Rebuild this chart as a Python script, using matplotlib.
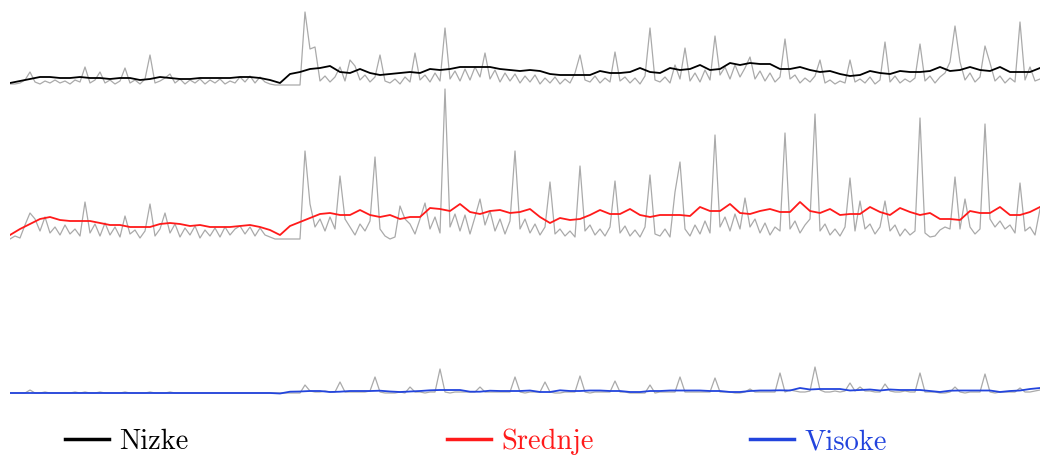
import numpy as np
import matplotlib
matplotlib.use("Agg")
import matplotlib.pyplot as plt

# raw daily values (gray) and smoothed trends, three groups
nizke_raw = [
    1, 1, 2, 5, 13, 3, 1, 4, 2, 5,
    2, 4, 1, 5, 3, 18, 2, 5, 13, 2,
    5, 1, 4, 17, 2, 5, 1, 6, 30, 2,
    4, 7, 11, 2, 6, 1, 5, 2, 6, 1,
    5, 2, 6, 1, 4, 2, 8, 3, 9, 2,
    8, 3, 1, 0, 0, 0, 0, 0, 0, 73,
    36, 38, 4, 9, 3, 8, 18, 4, 25, 19,
    5, 10, 3, 8, 30, 4, 2, 6, 1, 8,
    3, 32, 5, 10, 3, 12, 4, 57, 6, 14,
    4, 16, 5, 18, 8, 32, 6, 15, 3, 12,
    4, 11, 2, 9, 3, 10, 1, 7, 2, 8,
    1, 6, 2, 12, 30, 5, 3, 9, 2, 7,
    3, 33, 4, 8, 2, 7, 1, 9, 57, 5,
    3, 8, 2, 20, 6, 37, 4, 12, 3, 15,
    5, 49, 10, 18, 6, 20, 8, 17, 28, 6,
    14, 4, 12, 3, 8, 46, 6, 10, 2, 7,
    3, 9, 25, 2, 5, 1, 4, 2, 25, 3,
    6, 2, 8, 1, 5, 43, 3, 9, 2, 6,
    3, 7, 41, 4, 9, 2, 8, 12, 23, 59,
    23, 5, 12, 3, 8, 39, 22, 4, 9, 2,
    7, 3, 63, 5, 18, 4, 6,
]
nizke_trend = [
    2, 4, 6, 8, 8, 7, 7, 8, 7, 7,
    6, 7, 7, 5, 6, 8, 7, 6, 6, 7,
    7, 7, 7, 8, 8, 7, 5, 2, 11, 13,
    16, 17, 19, 13, 12, 16, 12, 10, 11, 12,
    13, 12, 16, 15, 16, 18, 18, 18, 18, 16,
    15, 14, 15, 14, 11, 10, 10, 10, 10, 14,
    12, 12, 13, 17, 13, 12, 17, 15, 16, 20,
    15, 16, 22, 20, 22, 21, 21, 16, 16, 18,
    15, 13, 14, 11, 9, 10, 14, 12, 11, 14,
    13, 13, 14, 18, 14, 15, 18, 15, 14, 18,
    13, 13, 13, 17,
]

srednje_raw = [
    0, 3, 1, 14, 26, 20, 8, 22, 6, 12,
    4, 14, 5, 10, 3, 37, 6, 15, 3, 16,
    4, 12, 2, 23, 5, 9, 1, 8, 35, 3,
    10, 26, 6, 15, 2, 11, 4, 13, 1, 9,
    3, 11, 2, 12, 4, 10, 13, 5, 12, 3,
    11, 4, 2, 0, 0, 0, 0, 0, 0, 88,
    35, 12, 20, 8, 22, 10, 63, 20, 12, 4,
    15, 8, 18, 82, 10, 3, 0, 2, 33, 20,
    15, 5, 20, 36, 10, 22, 6, 150, 12, 25,
    8, 24, 5, 22, 40, 14, 28, 8, 20, 5,
    18, 88, 10, 20, 6, 15, 4, 12, 57, 5,
    10, 3, 8, 2, 73, 8, 14, 4, 10, 3,
    12, 58, 6, 13, 3, 9, 2, 12, 64, 5,
    3, 10, 2, 47, 77, 10, 3, 14, 5, 18,
    6, 104, 12, 22, 8, 25, 10, 41, 12, 20,
    6, 16, 4, 12, 8, 106, 10, 18, 6, 14,
    20, 125, 8, 15, 4, 10, 3, 12, 61, 8,
    38, 10, 15, 5, 12, 38, 8, 14, 3, 10,
    4, 8, 121, 6, 2, 3, 9, 12, 10, 62,
    10, 40, 12, 5, 10, 115, 20, 12, 18, 10,
    14, 6, 56, 8, 12, 4, 30,
]
srednje_trend = [
    4, 10, 15, 20, 22, 19, 18, 18, 18, 16,
    14, 14, 12, 12, 12, 15, 16, 15, 13, 14,
    12, 12, 12, 13, 14, 12, 9, 4, 13, 17,
    21, 25, 26, 24, 24, 29, 24, 22, 24, 20,
    22, 22, 31, 30, 28, 35, 27, 25, 28, 29,
    26, 27, 30, 22, 16, 21, 19, 20, 24, 29,
    25, 25, 30, 24, 22, 24, 24, 24, 23, 32,
    28, 28, 35, 26, 25, 28, 30, 27, 27, 37,
    28, 26, 30, 24, 25, 25, 32, 27, 24, 31,
    27, 24, 26, 20, 20, 19, 28, 26, 26, 32,
    24, 24, 27, 32,
]

visoke_raw = [
    0, 0, 0, 0, 3, 0, 0, 1, 0, 0,
    0, 0, 0, 1, 0, 1, 0, 0, 1, 0,
    0, 0, 0, 1, 0, 0, 0, 0, 1, 0,
    0, 0, 1, 0, 0, 0, 0, 0, 0, 0,
    0, 0, 0, 0, 0, 0, 0, 0, 0, 0,
    0, 0, 0, 0, 0, 0, 0, 0, 0, 8,
    2, 1, 1, 2, 1, 1, 11, 1, 1, 1,
    1, 1, 2, 16, 1, 0, 0, 0, 1, 0,
    6, 1, 1, 0, 1, 1, 24, 1, 0, 1,
    1, 1, 1, 1, 6, 1, 1, 1, 1, 1,
    1, 16, 1, 0, 1, 1, 1, 11, 1, 0,
    0, 1, 1, 1, 17, 1, 0, 1, 1, 1,
    1, 12, 1, 1, 0, 0, 0, 0, 8, 0,
    1, 1, 1, 1, 16, 1, 1, 1, 1, 1,
    1, 15, 1, 1, 1, 0, 0, 1, 4, 1,
    1, 1, 1, 1, 20, 1, 3, 2, 1, 1,
    2, 26, 3, 1, 1, 2, 1, 2, 10, 2,
    6, 2, 2, 1, 1, 9, 2, 1, 1, 2,
    1, 1, 20, 1, 1, 1, 0, 0, 1, 6,
    1, 0, 1, 1, 1, 19, 1, 0, 1, 1,
    1, 1, 5, 1, 1, 2, 3,
]
visoke_trend = [
    0, 0, 0, 0, 0, 0, 0, 0, 0, 0,
    0, 0, 0, 0, 0, 0, 0, 0, 0, 0,
    0, 0, 0, 0, 0, 0, 0, -0.5, 1.3, 1.5,
    2, 2, 1, 1.3, 2, 2, 2, 2.3, 1.5, 1,
    1.5, 2, 2.7, 3, 3, 3, 1.3, 1.3, 2.3, 2,
    2, 2, 2.5, 1, 1, 2.7, 2, 2, 2.5, 2.5,
    2, 2, 1, 1, 2, 2, 2.5, 2.5, 2.5, 2.5,
    2, 2, 1, 1, 2, 2.5, 2.5, 2.7, 2.5, 5,
    3.5, 4, 4, 4, 2.5, 3, 3.5, 2.5, 3.5, 3,
    3, 3, 2, 1, 2.3, 2.5, 2.5, 2.5, 2.5, 1,
    2, 2.5, 4, 5,
]

labels = ["Nizke", "Srednje", "Visoke"]
colors = ["#000000", "#ff1a1a", "#2244dd"]

days = np.arange(len(nizke_raw))
days_trend = np.arange(0, len(nizke_raw), 2)

fig = plt.figure(figsize=(10.41, 4.57), dpi=100)
ax = fig.add_axes([10 / 1041, 47 / 457, 1030 / 1041, 410 / 457])

offsets = [308, 154, 0]
raws = [nizke_raw, srednje_raw, visoke_raw]
trends = [nizke_trend, srednje_trend, visoke_trend]

for raw, trend, off, col, lab in zip(raws, trends, offsets, colors, labels):
    ax.plot(days, np.array(raw) + off, color="#aaaaaa", lw=0.9)
    ax.plot(days_trend, np.array(trend) + off, color=col, lw=1.3, label=lab)

ax.set_xlim(days[0], days[-1])
ax.set_ylim(-17, 393)
ax.axis("off")

legend_x = [65 / 1041, 447 / 1041, 750 / 1041]
for lab, col, lx in zip(labels, colors, legend_x):
    proxy = plt.Line2D([], [], color=col, lw=2.5)
    leg = fig.legend([proxy], [lab], loc="center left",
                     bbox_to_anchor=(lx, 15 / 457), frameon=False,
                     borderpad=0, borderaxespad=0, handlelength=1.55,
                     handletextpad=0.35,
                     prop={"family": "cmr10", "size": 20.5})
    for t in leg.get_texts():
        t.set_color(col)

fig.savefig("out.png", dpi=100)
